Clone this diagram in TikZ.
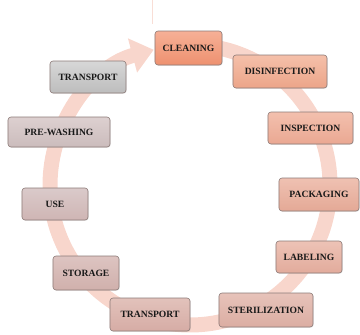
\documentclass[tikz,border=0pt]{standalone}
\usepackage{fontspec}
\setmainfont{Liberation Serif}
\usetikzlibrary{arrows.meta,shadows,calc}
\definecolor{arcc}{HTML}{F8D6CC}
\definecolor{edgec}{HTML}{8C7A77}
\tikzset{
  box/.style={draw=edgec, line width=0.6pt, rounded corners=3pt, inner sep=1pt,
    font=\fontsize{9.6}{11}\selectfont\bfseries, text=black!90,
    drop shadow={shadow xshift=0.7pt, shadow yshift=-0.7pt, opacity=0.25}},
  flow/.style={line width=15pt, draw=arcc, -{Triangle[width=34pt,length=22pt]}}
}
\begin{document}
\begin{tikzpicture}[x=1pt,y=-1pt]
\useasboundingbox (0,0) rectangle (360,335);
% circular arrow
\coordinate (c) at (190,185);
\draw[flow] ($(c)+(-88:140)$) arc[start angle=-88, end angle=255, radius=140];
\draw[line width=0.4pt, draw=arcc!80] (152,0) -- (152,24);
% boxes
\node[box, minimum width=67pt, minimum height=34pt, top color={rgb,255:red,246;green,176;blue,150}, bottom color={rgb,255:red,238;green,145;blue,112}] (clean) at (188.5,48) {CLEANING};
\node[box, minimum width=94pt, minimum height=33pt, top color={rgb,255:red,245;green,192;blue,170}, bottom color={rgb,255:red,236;green,165;blue,137}] (disinf) at (280,71.5) {DISINFECTION};
\node[box, minimum width=85pt, minimum height=32pt, top color={rgb,255:red,243;green,192;blue,174}, bottom color={rgb,255:red,234;green,168;blue,146}] (insp) at (310.5,128) {INSPECTION};
\node[box, minimum width=80pt, minimum height=33pt, top color={rgb,255:red,239;green,193;blue,178}, bottom color={rgb,255:red,228;green,169;blue,150}] (pack) at (319,194.5) {PACKAGING};
\node[box, minimum width=66pt, minimum height=32pt, top color={rgb,255:red,237;green,195;blue,182}, bottom color={rgb,255:red,226;green,171;blue,156}] (label) at (309,257) {LABELING};
\node[box, minimum width=94pt, minimum height=34pt, top color={rgb,255:red,231;green,195;blue,186}, bottom color={rgb,255:red,219;green,173;blue,162}] (steril) at (266,310) {STERILIZATION};
\node[box, minimum width=80pt, minimum height=33pt, top color={rgb,255:red,226;green,194;blue,187}, bottom color={rgb,255:red,214;green,172;blue,165}] (trans2) at (150,314.5) {TRANSPORT};
\node[box, minimum width=66pt, minimum height=34pt, top color={rgb,255:red,221;green,196;blue,193}, bottom color={rgb,255:red,208;green,176;blue,172}] (stor) at (86,273) {STORAGE};
\node[box, minimum width=66pt, minimum height=32pt, top color={rgb,255:red,218;green,202;blue,202}, bottom color={rgb,255:red,207;green,181;blue,180}] (use) at (55,204) {USE};
\node[box, minimum width=102pt, minimum height=30pt, top color={rgb,255:red,221;green,208;blue,208}, bottom color={rgb,255:red,203;green,188;blue,188}] (prewash) at (59,132) {PRE-WASHING};
\node[box, minimum width=76pt, minimum height=32pt, top color={rgb,255:red,215;green,215;blue,215}, bottom color={rgb,255:red,189;green,189;blue,189}] (trans1) at (88,77) {TRANSPORT};
\end{tikzpicture}
\end{document}
